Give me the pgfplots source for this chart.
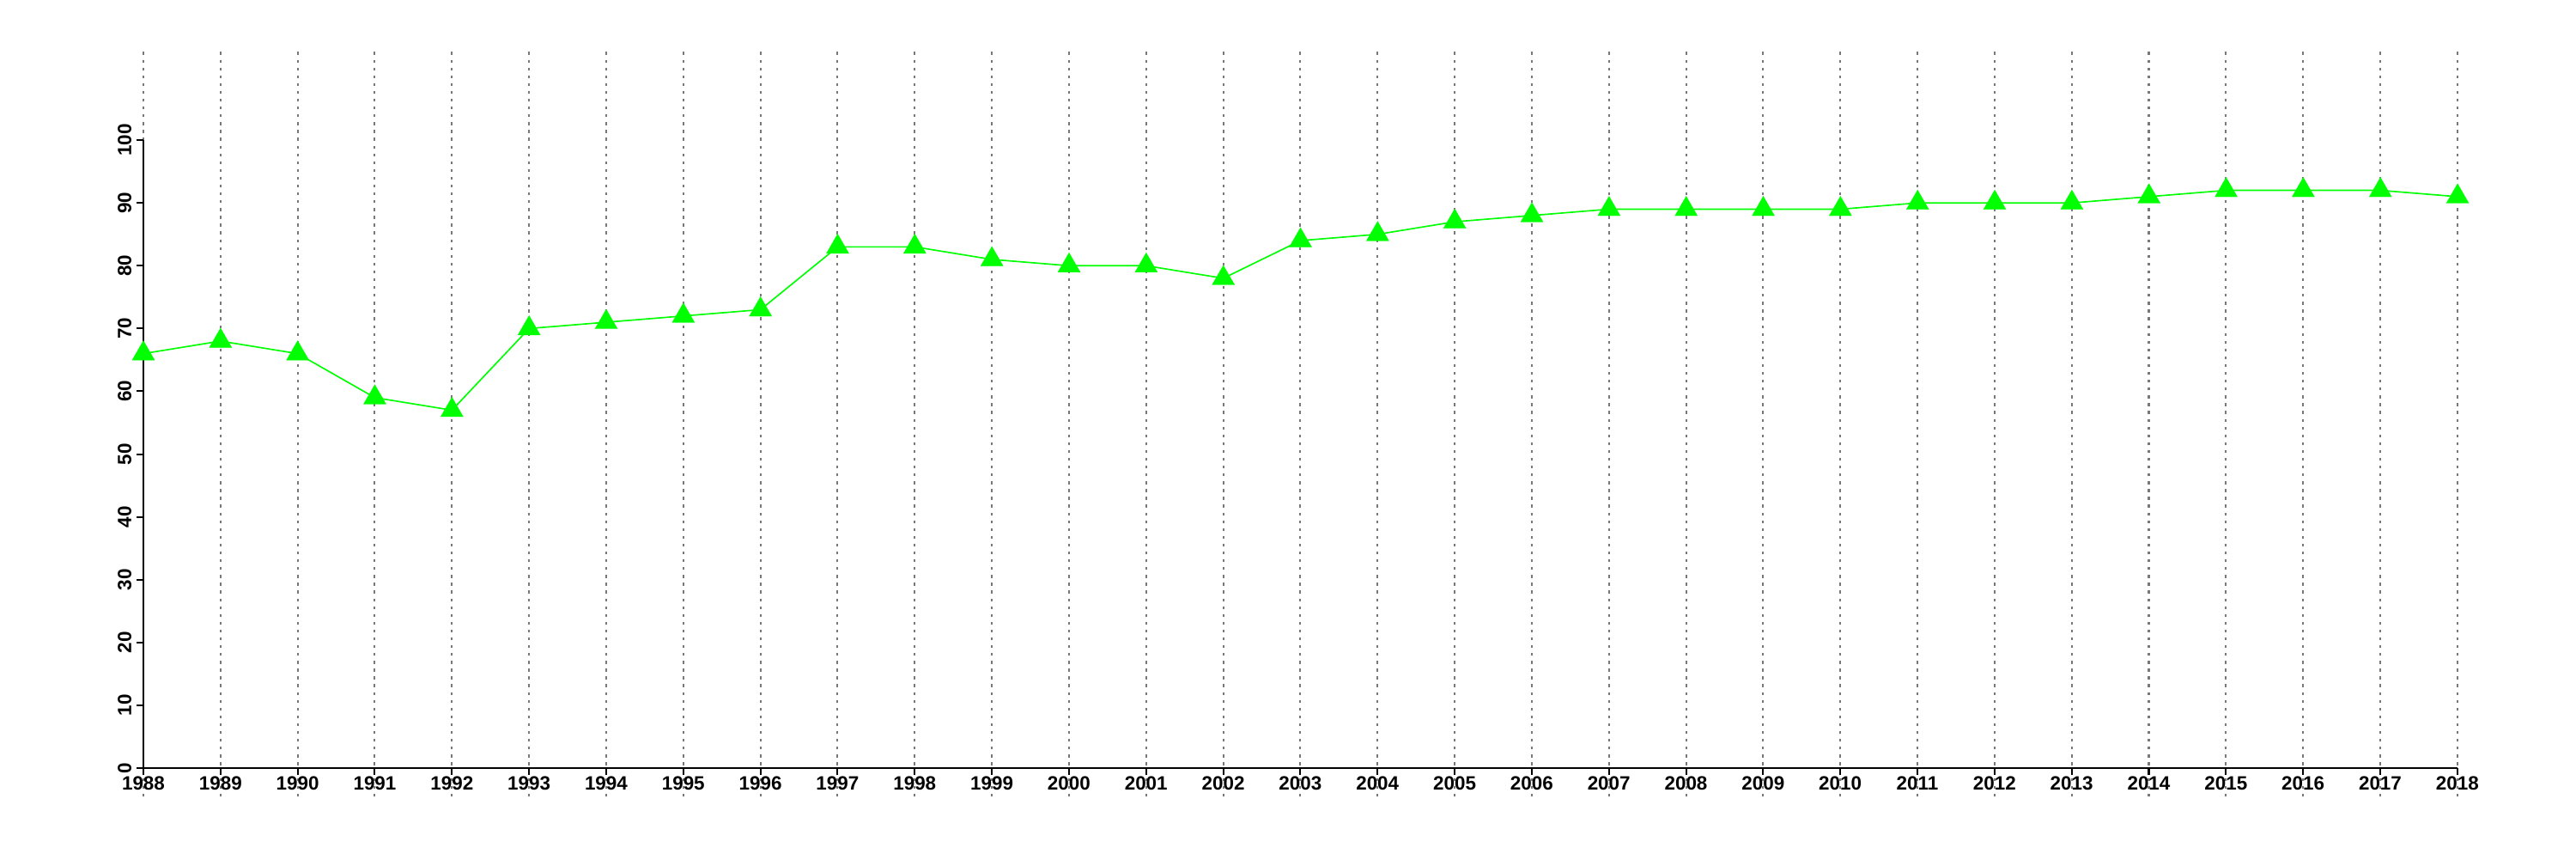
\documentclass[border=0pt]{standalone}
\usepackage{pgfplots}
\pgfplotsset{compat=1.18}
\usepackage{fontspec}
\setmainfont{Liberation Sans}
\definecolor{lime}{RGB}{0,255,0}
\definecolor{gridgray}{RGB}{120,120,120}

\begin{document}
\begin{tikzpicture}
% page = 3000x1000 px, 1 px = 0.4237pt
\useasboundingbox (-70.76pt,-30.93pt) rectangle (1200.34pt,392.77pt);
\begin{axis}[
  scale only axis,
  width=1141.9pt, height=367.3pt,
  xmin=1988, xmax=2018,
  ymin=-4.51, ymax=114.09,
  axis x line=middle,
  axis y line=left,
  x axis line style={-, line width=0.85pt},
  y axis line style={draw=none},
  hide obscured x ticks=false,
  hide obscured y ticks=false,
  xtick={1988,1989,...,2018},
  ytick={0,10,...,100},
  tick align=outside,
  major tick length=3.2pt,
  every tick/.style={black, line width=0.85pt},
  xmajorgrids,
  major grid style={gridgray, line width=0.85pt, dash pattern=on 1.4pt off 2.45pt},
  /pgf/number format/assume math mode=true,
  /pgf/number format/set thousands separator={},
  ticklabel style={font=\bfseries\fontsize{9.5}{10}\selectfont},
  xticklabel style={inner sep=0.8pt},
  yticklabel style={rotate=90, anchor=south, inner sep=2.5pt},
  clip=false,
]
\draw[black, line width=0.85pt] (axis cs:1988,0) -- (axis cs:1988,100);

\addplot[lime, line width=0.7pt, mark=triangle*, mark size=6.4pt,
  mark options={fill=lime, draw=lime, line width=0.1pt}]
coordinates {
(1988,66) (1989,68) (1990,66) (1991,59) (1992,57) (1993,70) (1994,71)
(1995,72) (1996,73) (1997,83) (1998,83) (1999,81) (2000,80) (2001,80)
(2002,78) (2003,84) (2004,85) (2005,87) (2006,88) (2007,89) (2008,89)
(2009,89) (2010,89) (2011,90) (2012,90) (2013,90) (2014,91) (2015,92)
(2016,92) (2017,92) (2018,91)
};
\end{axis}
\end{tikzpicture}
\end{document}
